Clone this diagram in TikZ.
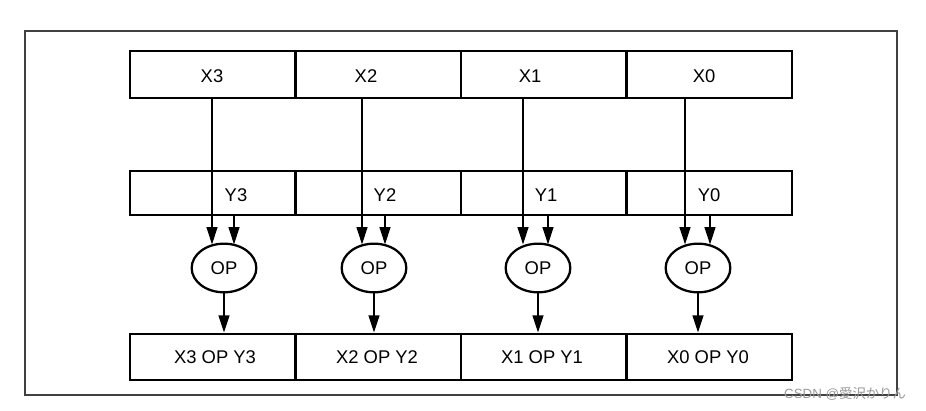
\documentclass[tikz,border=0pt]{standalone}
\usepackage{fontspec}
\setmainfont{Liberation Sans}
\newfontfamily\cjk{Noto Sans CJK JP}
\usetikzlibrary{arrows.meta,shapes.geometric}
\begin{document}
\begin{tikzpicture}[x=0.75pt,y=-0.75pt,
  cellbox/.style={draw=black, line width=2pt, inner sep=0pt, minimum width=124.1pt},
  lbl/.style={inner sep=0pt, font=\fontsize{13.8pt}{16pt}\selectfont},
  opnode/.style={ellipse, draw=black, line width=1.7pt, minimum width=48.5pt, minimum height=36.5pt, inner sep=0pt, font=\fontsize{13.8pt}{16pt}\selectfont},
  arr/.style={line width=1.7pt, -{Triangle[length=13pt,width=8pt]}},
  frame/.style={draw=black!75, line width=1.5pt}]
\useasboundingbox (0,0) rectangle (926,411);
\draw[frame] (25,31) rectangle (897,395);
% rows of cells
\foreach \n/\cx in {3/212.75,2/378.25,1/543.75,0/709.25}{
  \node[cellbox, minimum height=35.25pt] (X\n) at (\cx,74.5) {};
  \node[cellbox, minimum height=33pt] (Y\n) at (\cx,193) {};
  \node[cellbox, minimum height=34.5pt] (Z\n) at (\cx,357) {};
}
% labels
\node[lbl] (lx3) at (212,76) {X3};
\node[lbl] (lx2) at (366,76) {X2};
\node[lbl] (lx1) at (530,76) {X1};
\node[lbl] (lx0) at (704,76) {X0};
\node[lbl] (ly3) at (236,195) {Y3};
\node[lbl] (ly2) at (385,195) {Y2};
\node[lbl] (ly1) at (546,195) {Y1};
\node[lbl] (ly0) at (709,195) {Y0};
\node[lbl] (lz3) at (215,357) {X3 OP Y3};
\node[lbl] (lz2) at (377,357) {X2 OP Y2};
\node[lbl] (lz1) at (542,357) {X1 OP Y1};
\node[lbl] (lz0) at (708,357) {X0 OP Y0};
% ops
\node[opnode] (op3) at (224,268) {OP};
\node[opnode] (op2) at (374,268) {OP};
\node[opnode] (op1) at (538,268) {OP};
\node[opnode] (op0) at (698,268) {OP};
% arrow start coordinates
\coordinate (xa3) at (212,98);
\coordinate (xa2) at (362,98);
\coordinate (xa1) at (523,98);
\coordinate (xa0) at (685,98);
\coordinate (ya3) at (234,215);
\coordinate (ya2) at (385,215);
\coordinate (ya1) at (548,215);
\coordinate (ya0) at (710,215);
\foreach \n in {3,2,1,0}{
  \draw[arr] (xa\n) -- ([yshift=-1.5pt]xa\n |- op\n.north);
  \draw[arr] (ya\n) -- ([yshift=-1.5pt]ya\n |- op\n.north);
  \draw[arr] (op\n.south) -- (op\n.south |- Z\n.north);
}
\node[inner sep=0pt, text=black!40, font=\fontsize{10pt}{12pt}\selectfont] (wm) at (845,394) {CSDN @{\cjk 愛沢かりん}};
\end{tikzpicture}
\end{document}
